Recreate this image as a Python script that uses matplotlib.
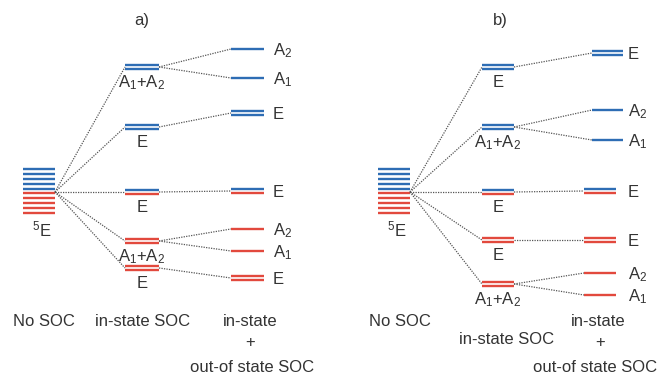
import matplotlib
matplotlib.use("Agg")
import matplotlib.pyplot as plt

plt.rcParams['font.family'] = ['Liberation Sans', 'DejaVu Sans']
plt.rcParams['mathtext.default'] = 'regular'

# ---------------- data (energies, arbitrary units relative to 5E) ----------------
stack_energy = [23, 18.1, 13.2, 8.3, 3.4, -1.4, -6.3, -11.2, -16.1, -21]
stack_kind = ['b', 'b', 'b', 'b', 'b', 'r', 'r', 'r', 'r', 'r']

a_in_labels = ['A$_1$+A$_2$', 'E', 'E', 'A$_1$+A$_2$', 'E']
a_in_energy = [125, 65, 0, -49, -76]
a_in_kind = ['bb', 'bb', 'br', 'rr', 'rr']
a_out_labels = ['A$_2$', 'A$_1$', 'E', 'E', 'A$_2$', 'A$_1$', 'E']
a_out_energy = [143, 114, 79, 1, -37, -59, -86]
a_out_kind = ['b', 'b', 'bb', 'br', 'r', 'r', 'rr']
a_out_parent = [0, 0, 1, 2, 3, 3, 4]

b_in_labels = ['E', 'A$_1$+A$_2$', 'E', 'E', 'A$_1$+A$_2$']
b_in_energy = [125, 65, 0, -48, -92]
b_in_kind = ['bb', 'bb', 'br', 'rr', 'rr']
b_out_labels = ['E', 'A$_2$', 'A$_1$', 'E', 'E', 'A$_2$', 'A$_1$']
b_out_energy = [139, 82, 52, 1, -48, -81, -103]
b_out_kind = ['bb', 'b', 'b', 'br', 'rr', 'r', 'r']
b_out_parent = [0, 1, 1, 2, 3, 4, 4]

col_titles = ['No SOC', 'in-state SOC', 'in-state', '+', 'out-of state SOC']
panel_titles = ['a)', 'b)']

# ---------------- style / layout ----------------
BLUE = '#2e6db4'
RED = '#e2493d'
DOT = '#555555'
TXT = '#333333'
FS = 12
LW = 1.7
GAP = 2.0  # half separation of double lines

fig = plt.figure(figsize=(6.63, 3.76), dpi=100)
ax = fig.add_axes([0, 0, 1, 1])
ax.set_xlim(0, 663)
ax.set_ylim(192 - 376, 192)
ax.axis('off')

def ypix(y):
    return 192 - y

col = {'b': BLUE, 'r': RED}

def draw_level(x0, x1, e, kind):
    if len(kind) == 1:
        ax.plot([x0, x1], [e, e], color=col[kind], lw=LW, solid_capstyle='butt')
    else:
        ax.plot([x0, x1], [e + GAP, e + GAP], color=col[kind[0]], lw=LW, solid_capstyle='butt')
        ax.plot([x0, x1], [e - GAP, e - GAP], color=col[kind[1]], lw=LW, solid_capstyle='butt')

def dotted(x0, y0, x1, y1):
    ax.plot([x0, x1], [y0, y1], color=DOT, lw=0.9, linestyle=(0, (1, 1)))

def panel(stack_x, in_x, out_x, out_x_lower, lab_x,
          in_e, in_k, in_l, out_e, out_k, out_l, out_p,
          title_xy, texts):
    # 5E stack
    for e, k in zip(stack_energy, stack_kind):
        draw_level(stack_x[0], stack_x[1], e, k)
    ax.text((stack_x[0] + stack_x[1]) / 2 + 3, ypix(229), '$^5$E', ha='center', va='center',
            fontsize=FS, color=TXT)
    pivot = (stack_x[1], 0)
    # in-state levels
    for e, k, l in zip(in_e, in_k, in_l):
        dotted(pivot[0], pivot[1], in_x[0], e)
        draw_level(in_x[0], in_x[1], e, k)
        ax.text((in_x[0] + in_x[1]) / 2, e - 20, l, ha='center', va='baseline',
                fontsize=FS, color=TXT)
    # out-of-state levels
    for i, (e, k, l, p) in enumerate(zip(out_e, out_k, out_l, out_p)):
        xs = out_x if out_x_lower is None or e > 40 else out_x_lower
        dotted(in_x[1], in_e[p], xs[0], e)
        draw_level(xs[0], xs[1], e, k)
        ax.text(lab_x, e - 6, l, ha='left', va='baseline', fontsize=FS, color=TXT)
    ax.text(title_xy[0], ypix(title_xy[1]), title_xy[2], ha='center', va='center',
            fontsize=FS, color=TXT)
    for t, (x, y) in zip(col_titles, texts):
        ax.text(x, ypix(y), t, ha='center', va='center', fontsize=FS, color=TXT)

panel((23, 55), (125, 159), (231, 264), None, 273,
      a_in_energy, a_in_kind, a_in_labels,
      a_out_energy, a_out_kind, a_out_labels, a_out_parent,
      (142, 20, panel_titles[0]),
      [(44, 322), (143, 322), (250, 322), (250, 343), (252, 368)])

panel((378, 410), (482, 514), (592, 623), (584, 616), 628,
      b_in_energy, b_in_kind, b_in_labels,
      b_out_energy, b_out_kind, b_out_labels, b_out_parent,
      (500, 20, panel_titles[1]),
      [(400, 322), (507, 339), (598, 322), (600, 343), (595, 368)])

fig.savefig('out.png', dpi=100)
